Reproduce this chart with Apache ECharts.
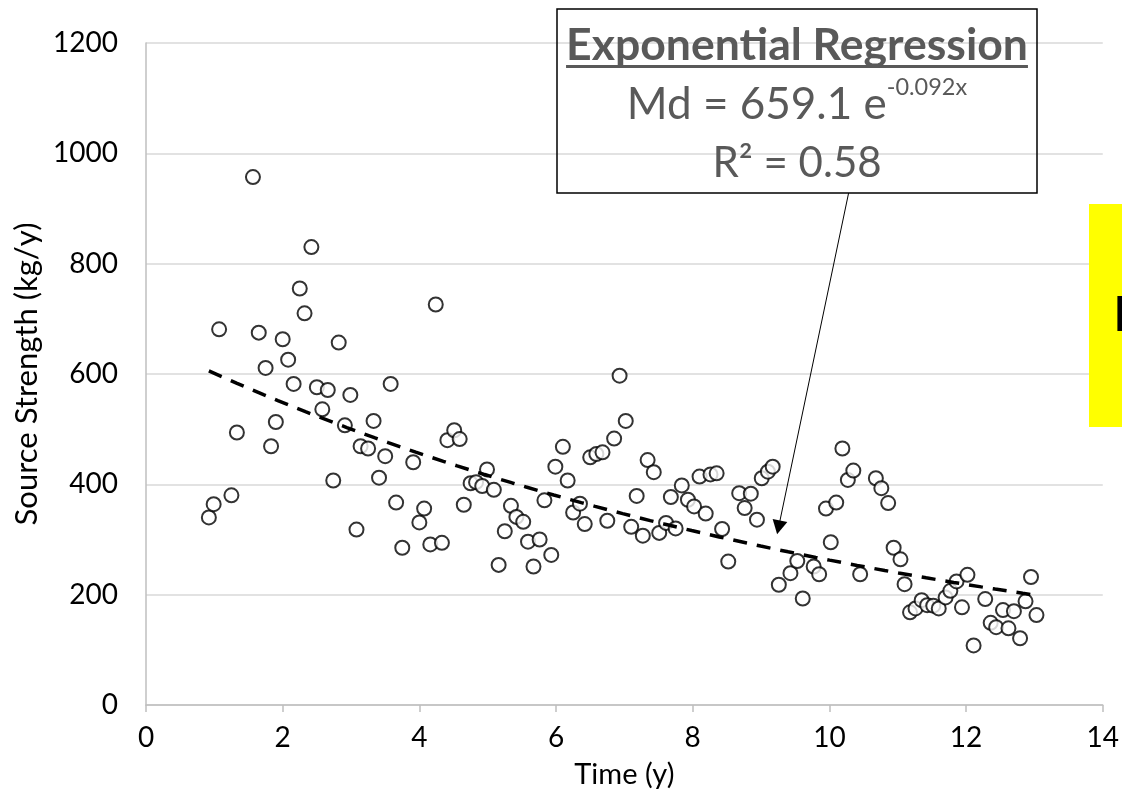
<!DOCTYPE html>
<html><head><meta charset="utf-8">
<script src="https://cdn.jsdelivr.net/npm/echarts@6/dist/echarts.min.js"></script>
<style>html,body{margin:0;padding:0;background:#fff}#c{width:1122px;height:812px}</style>
</head><body><div id="c"></div>
<script>
// ---- data ----
const timeYears = [0.92,0.99,1.07,1.25,1.33,1.565,1.65,1.75,1.83,1.90,2.00,2.08,2.16,2.25,2.32,2.42,2.50,2.58,2.66,2.74,2.82,2.91,2.99,3.08,3.14,3.25,3.33,3.41,3.50,3.58,3.66,3.75,3.91,4.00,4.07,4.16,4.24,4.33,4.41,4.51,4.59,4.65,4.75,4.83,4.92,4.99,5.09,5.16,5.25,5.34,5.42,5.52,5.59,5.67,5.76,5.83,5.93,5.99,6.10,6.17,6.25,6.35,6.42,6.50,6.59,6.68,6.75,6.85,6.93,7.02,7.10,7.18,7.27,7.34,7.43,7.51,7.61,7.68,7.75,7.84,7.93,8.02,8.10,8.19,8.26,8.35,8.43,8.52,8.68,8.76,8.85,8.94,9.01,9.10,9.17,9.26,9.43,9.53,9.61,9.77,9.85,9.95,10.02,10.10,10.19,10.27,10.35,10.45,10.68,10.76,10.86,10.94,11.04,11.10,11.18,11.26,11.35,11.43,11.52,11.60,11.70,11.77,11.86,11.94,12.02,12.11,12.28,12.36,12.44,12.54,12.62,12.70,12.79,12.87,12.95,13.03];
const sourceStrength = [340,364,681,380,494,957,675,611,469,513,663,626,582,755,710,830,576,536,571,407,657,507,562,318,469,465,515,412,451,582,367,285,440,331,356,291,726,294,480,498,482,363,402,404,397,427,390,254,315,361,341,332,296,251,300,371,272,432,468,407,349,365,328,449,455,458,334,483,597,515,323,379,307,444,422,312,330,377,320,398,372,360,414,347,418,420,319,260,384,357,383,336,411,423,432,218,239,261,193,251,237,356,295,367,465,408,425,237,411,393,366,285,264,219,168,175,190,181,180,175,195,207,224,177,236,108,192,149,141,172,139,170,121,188,232,163];
const xTicks = [0,2,4,6,8,10,12,14];
const yTicks = [0,200,400,600,800,1000,1200];
// exponential regression shown on the chart: Md = 659.1 e^(-0.092x)
const TREND_A = 659.1;
const TREND_K = -0.092;
const trendRange = [0.92, 13.03];
// annotation arrow (data coordinates): from box bottom to the trend line
const arrowFrom = [10.281, 928];
const arrowTo = [9.256, 322];
const titleText = 'Exponential Regression';
const eqMain = 'Md = 659.1 e';
const eqSup = '-0.092x';
const r2Text = 'R² = 0.58';
const sideText = 'D';

const points = timeYears.map((t, i) => [t, sourceStrength[i]]);
const trend = [];
for (let i = 0; i <= 60; i++) {
  const x = trendRange[0] + (trendRange[1] - trendRange[0]) * i / 60;
  trend.push([x, TREND_A * Math.exp(TREND_K * x)]);
}

const FONT = 'Lato, "Open Sans", sans-serif';
const mctx = document.createElement('canvas').getContext('2d');
mctx.font = 'bold 42px Lato';
const w42 = mctx.measureText(titleText).width;
const titleSize = Math.min(46, 42 * 462 / w42);
mctx.font = 'bold ' + titleSize + 'px Lato';
const titleW = mctx.measureText(titleText).width;
const boxCx = 797;

const chart = echarts.init(document.getElementById('c'), null, {renderer: 'canvas'});
chart.setOption({
  animation: false,
  backgroundColor: '#fff',
  grid: {left: 146, right: 16, top: 43, bottom: 107, containLabel: false},
  xAxis: {
    type: 'value', min: xTicks[0], max: xTicks[xTicks.length - 1], interval: 2,
    name: 'Time (y)', nameLocation: 'middle', nameGap: 55,
    nameTextStyle: {fontFamily: FONT, fontSize: 29, color: '#000'},
    axisLine: {show: true, lineStyle: {color: '#bfbfbf', width: 1.5}},
    axisTick: {show: true, length: 7, lineStyle: {color: '#bfbfbf', width: 1.5}},
    axisLabel: {fontFamily: FONT, fontSize: 28, color: '#000', margin: 19, formatter: v => String(v)},
    splitLine: {show: false}
  },
  yAxis: {
    type: 'value', min: yTicks[0], max: yTicks[yTicks.length - 1], interval: 200,
    name: 'Source Strength (kg/y)', nameLocation: 'middle', nameGap: 99,
    nameTextStyle: {fontFamily: FONT, fontSize: 31, color: '#000'},
    axisLine: {show: true, lineStyle: {color: '#bfbfbf', width: 1.5}},
    axisTick: {show: false},
    axisLabel: {fontFamily: FONT, fontSize: 28, color: '#000', margin: 28, formatter: v => String(v)},
    splitLine: {show: true, lineStyle: {color: '#d9d9d9', width: 1.5}}
  },
  series: [
    {
      type: 'scatter', data: points, symbol: 'circle', symbolSize: 14, z: 2,
      itemStyle: {color: '#fff', borderColor: '#000', borderWidth: 2}
    },
    {
      type: 'line', data: trend, showSymbol: false, symbol: 'none', z: 3, smooth: false,
      lineStyle: {color: '#000', width: 3.5, type: [14, 10]},
      markLine: {
        silent: true, symbol: ['none', 'triangle'], symbolSize: [15, 14],
        label: {show: false},
        lineStyle: {color: '#000', width: 1, type: 'solid'},
        data: [[{coord: arrowFrom}, {coord: arrowTo}]]
      }
    }
  ],
  graphic: [
    {type: 'rect', shape: {x: 557, y: 9, width: 480, height: 184}, style: {fill: 'none', stroke: '#000', lineWidth: 1.5}, z: 10},
    {type: 'text', x: boxCx, y: 46, style: {text: titleText, fontFamily: FONT, fontWeight: 'bold', fontSize: titleSize, fill: '#595959', align: 'center', verticalAlign: 'middle'}, z: 10},
    {type: 'line', shape: {x1: boxCx - titleW / 2, y1: 66.5, x2: boxCx + titleW / 2, y2: 66.5}, style: {stroke: '#595959', lineWidth: 3}, z: 10},
    {type: 'text', x: boxCx, y: 101, style: {
      text: '{a|' + eqMain + '}{s|' + eqSup + '}', align: 'center', verticalAlign: 'middle',
      rich: {
        a: {fontFamily: FONT, fontSize: 44, fill: '#595959', padding: [7, 0, 0, 0], verticalAlign: 'bottom'},
        s: {fontFamily: FONT, fontSize: 23.5, fill: '#595959', verticalAlign: 'top'}
      }}, z: 10},
    {type: 'text', x: boxCx, y: 163, style: {text: r2Text, fontFamily: FONT, fontSize: 42, fill: '#595959', align: 'center', verticalAlign: 'middle'}, z: 10},
    {type: 'rect', shape: {x: 1089, y: 204, width: 40, height: 223}, style: {fill: '#ffff00'}, z: 10},
    {type: 'text', x: 1113, y: 316, style: {text: sideText, fontFamily: FONT, fontSize: 48, fill: '#000', align: 'left', verticalAlign: 'middle'}, z: 11}
  ]
});
</script>
</body></html>
